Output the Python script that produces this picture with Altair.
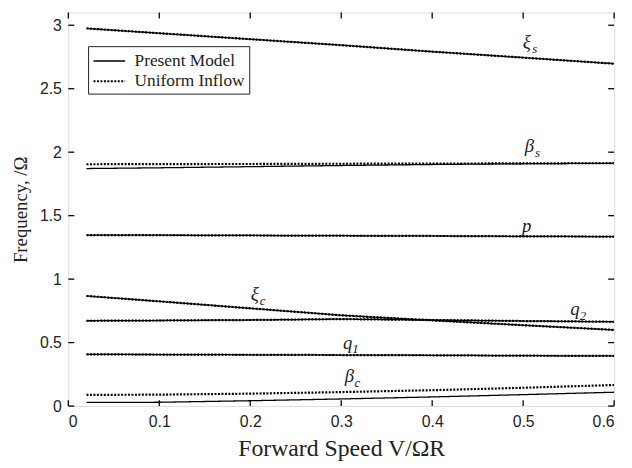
import altair as alt
import pandas as pd

speeds = [0.02, 0.1, 0.2, 0.3, 0.4, 0.5, 0.6]

present = {
    "xi_s":   [2.975, 2.937, 2.890, 2.843, 2.792, 2.745, 2.697],
    "beta_s": [1.871, 1.877, 1.886, 1.895, 1.903, 1.909, 1.913],
    "p":      [1.347, 1.346, 1.344, 1.342, 1.340, 1.337, 1.335],
    "xi_c":   [0.867, 0.825, 0.770, 0.715, 0.675, 0.637, 0.600],
    "q2":     [0.672, 0.674, 0.678, 0.685, 0.678, 0.670, 0.664],
    "q1":     [0.407, 0.406, 0.404, 0.402, 0.400, 0.397, 0.395],
    "beta_c": [0.029, 0.030, 0.042, 0.056, 0.072, 0.090, 0.109],
}
uniform = {
    "xi_s":   [2.975, 2.937, 2.890, 2.843, 2.792, 2.745, 2.697],
    "beta_s": [1.905, 1.906, 1.907, 1.909, 1.910, 1.912, 1.913],
    "p":      [1.347, 1.346, 1.344, 1.342, 1.340, 1.337, 1.335],
    "xi_c":   [0.867, 0.825, 0.770, 0.715, 0.675, 0.637, 0.600],
    "q2":     [0.672, 0.674, 0.678, 0.685, 0.678, 0.670, 0.664],
    "q1":     [0.407, 0.406, 0.404, 0.402, 0.400, 0.397, 0.395],
    "beta_c": [0.088, 0.090, 0.098, 0.110, 0.125, 0.144, 0.166],
}

label_x = [0.504, 0.507, 0.504, 0.205, 0.557, 0.307, 0.309]
label_y = [2.87, 2.05, 1.42, 0.88, 0.765, 0.50, 0.235]
label_base = ["ξ", "β", "p", "ξ", "q", "q", "β"]
label_sub = ["s", "s", "", "c", "2", "1", "c"]

x_ticks = [0, 0.1, 0.2, 0.3, 0.4, 0.5, 0.6]
y_ticks = [0, 0.5, 1, 1.5, 2, 2.5, 3]

models = ["Present Model", "Uniform Inflow"]

rows = []
for model, series in zip(models, [present, uniform]):
    for mode, vals in series.items():
        for i, (s, v) in enumerate(zip(speeds, vals)):
            rows.append({"model": model, "mode": mode, "key": model + mode,
                         "speed": s, "freq": v, "order": i})
df = pd.DataFrame(rows)

labels = pd.DataFrame({"x": label_x, "y": label_y, "base": label_base, "sub": label_sub})
xt = pd.DataFrame({"t": x_ticks})
yt = pd.DataFrame({"t": y_ticks})

W, H = 552, 398
xs = alt.Scale(domain=[0, 0.6], nice=False, zero=False)
ys = alt.Scale(domain=[0, 3.1], nice=False, zero=False)

lines = alt.Chart(df).mark_line(color="black", clip=True).encode(
    x=alt.X("speed:Q", scale=xs,
            axis=alt.Axis(title="Forward Speed V/ΩR", values=x_ticks, format="~g",
                          grid=False, ticks=False, domain=False, labelPadding=8,
                          labelFont="Liberation Sans", labelFontSize=16, labelColor="#222",
                          titleFont="Liberation Serif", titleFontSize=24,
                          titleFontWeight="normal", titlePadding=7, titleColor="#222")),
    y=alt.Y("freq:Q", scale=ys,
            axis=alt.Axis(title="Frequency, /Ω", values=y_ticks, format="~g",
                          grid=False, ticks=False, domain=False, labelPadding=7,
                          labelFont="Liberation Sans", labelFontSize=16, labelColor="#222",
                          titleFont="Liberation Serif", titleFontSize=19,
                          titleFontWeight="normal", titlePadding=9, titleColor="#222")),
    detail="key:N",
    order="order:Q",
    strokeDash=alt.StrokeDash("model:N", scale=alt.Scale(domain=models, range=[[1, 0], [2, 1.5]]),
                              legend=alt.Legend(title=None, orient="none", legendX=20, legendY=34,
                                                symbolType="M-1,0H2.2", symbolStrokeColor="black",
                                                symbolSize=400, labelFont="Liberation Serif",
                                                labelFontSize=17.5, labelColor="#222",
                                                strokeColor="#222", fillColor="white",
                                                padding=4, rowPadding=0, labelOffset=20,
                                                cornerRadius=0)),
    strokeWidth=alt.StrokeWidth("model:N", scale=alt.Scale(domain=models, range=[1.3, 2.2]),
                                legend=None),
)

base_text = alt.Chart(labels).mark_text(font="Liberation Serif", fontStyle="italic",
                                        fontSize=19, color="#222").encode(
    x=alt.X("x:Q", scale=xs), y=alt.Y("y:Q", scale=ys), text="base:N")
sub_text = alt.Chart(labels).mark_text(font="Liberation Serif", fontStyle="italic",
                                       fontSize=13, color="#222", dx=8, dy=7).encode(
    x=alt.X("x:Q", scale=xs), y=alt.Y("y:Q", scale=ys), text="sub:N")

tick_len = 6
bt = alt.Chart(xt).mark_rule(color="black", strokeWidth=1.3).encode(
    x=alt.X("t:Q", scale=xs), y=alt.value(H), y2=alt.value(H - tick_len))
tt = alt.Chart(xt).mark_rule(color="black", strokeWidth=1.3).encode(
    x=alt.X("t:Q", scale=xs), y=alt.value(0), y2=alt.value(tick_len))
lt = alt.Chart(yt).mark_rule(color="black", strokeWidth=1.3).encode(
    y=alt.Y("t:Q", scale=ys), x=alt.value(0), x2=alt.value(tick_len))
rt = alt.Chart(yt).mark_rule(color="black", strokeWidth=1.3).encode(
    y=alt.Y("t:Q", scale=ys), x=alt.value(W), x2=alt.value(W - tick_len))

chart = alt.layer(lines, base_text, sub_text, bt, tt, lt, rt).properties(
    width=W, height=H,
    autosize=alt.AutoSizeParams(type="none"),
    padding={"left": 61, "top": 2, "right": 10, "bottom": 56},
).configure_view(stroke="#111", strokeWidth=1.6).configure(background="white")

chart.save("out.html", embed_options={"renderer": "svg", "actions": False})
